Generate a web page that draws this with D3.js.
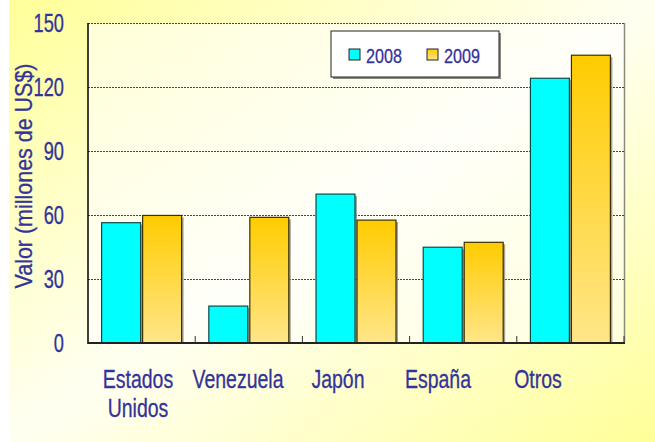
<!DOCTYPE html>
<html><head><meta charset="utf-8">
<script src="https://cdn.jsdelivr.net/npm/d3@7"></script>
<style>
html,body{margin:0;padding:0;background:#fff;}
svg text{font-family:"Liberation Sans",Arial,sans-serif;fill:#333399;stroke:#333399;stroke-width:0.3;}
</style></head>
<body>
<svg id="chart" width="655" height="442"></svg>
<script>
const categories = ["Estados\nUnidos", "Venezuela", "Japón", "España", "Otros"];
const seriesNames = ["2008", "2009"];
const values2008 = [56.4, 17.3, 69.8, 44.9, 124.1];
const values2009 = [59.8, 58.9, 57.6, 47.2, 134.9];
const yTicks = [0, 30, 60, 90, 120, 150];
const yTitle = "Valor (millones de US$)";

const svg = d3.select("#chart");
const W = 655, H = 442;
const m = {left: 88, top: 23, right: 31, bottom: 99};
const pw = W - m.left - m.right, ph = H - m.top - m.bottom;

const defs = svg.append("defs");
const bg = defs.append("linearGradient").attr("id","bg").attr("x1","0").attr("y1","0").attr("x2","1").attr("y2","1");
bg.append("stop").attr("offset","0").attr("stop-color","#ffff99");
bg.append("stop").attr("offset","0.5").attr("stop-color","#fffff2");
bg.append("stop").attr("offset","1").attr("stop-color","#ffff99");
const gold = defs.append("linearGradient").attr("id","gold").attr("x1","0").attr("y1","0").attr("x2","0").attr("y2","1");
gold.append("stop").attr("offset","0").attr("stop-color","#ffcc00");
gold.append("stop").attr("offset","1").attr("stop-color","#ffe68a");

svg.append("rect").attr("x",9).attr("y",0).attr("width",W-9).attr("height",H).attr("fill","url(#bg)");

const x0 = d3.scaleBand().domain(categories).range([m.left, m.left+pw]).padding(0);
const x1 = d3.scaleBand().domain(seriesNames).range([x0.bandwidth()*0.127, x0.bandwidth()*0.873]).paddingInner(0.05);
const y = d3.scaleLinear().domain([0,150]).range([m.top+ph, m.top]);
const labelX = d3.scaleBand().domain(categories).range([m.left, m.left+500]);

// plot area
svg.append("rect").attr("x",m.left).attr("y",m.top).attr("width",pw).attr("height",ph)
  .attr("fill","#ffffff").attr("fill-opacity",0.55);
svg.append("line").attr("x1",m.left+pw+0.5).attr("x2",m.left+pw+0.5).attr("y1",m.top).attr("y2",m.top+ph)
  .attr("stroke","#8a8a7a").attr("stroke-width",1.5);

// grid
svg.append("g").selectAll("line").data(yTicks.filter(d=>d>0)).join("line")
  .attr("x1",m.left).attr("x2",m.left+pw)
  .attr("y1",d=>Math.round(y(d))+0.5).attr("y2",d=>Math.round(y(d))+0.5)
  .attr("stroke","#444").attr("stroke-width",1).attr("stroke-dasharray","2,1");

// bars
const data = categories.map((c,i)=>({c, vals:[{s:"2008",v:values2008[i]},{s:"2009",v:values2009[i]}]}));
const groups = svg.append("g").selectAll("g").data(data).join("g")
  .attr("transform",d=>`translate(${x0(d.c)},0)`);
groups.selectAll("rect.sh").data(d=>d.vals).join("rect").attr("class","sh")
  .attr("x",d=>x1(d.s)+2).attr("y",d=>y(d.v)+2).attr("width",x1.bandwidth())
  .attr("height",d=>y(0)-y(d.v)-2).attr("fill","#8a8a80").attr("fill-opacity",0.8);
groups.selectAll("rect.bar").data(d=>d.vals).join("rect").attr("class","bar")
  .attr("x",d=>x1(d.s)).attr("y",d=>y(d.v)).attr("width",x1.bandwidth())
  .attr("height",d=>y(0)-y(d.v))
  .attr("fill",d=>d.s==="2008"?"#00ffff":"url(#gold)")
  .attr("stroke",d=>d.s==="2008"?"#0b4a4a":"#3a3000").attr("stroke-width",1.2);

// axes lines
svg.append("line").attr("x1",m.left).attr("x2",m.left).attr("y1",m.top).attr("y2",m.top+ph+1).attr("stroke","#000").attr("stroke-width",1.5);
svg.append("line").attr("x1",m.left).attr("x2",m.left+pw+1).attr("y1",m.top+ph).attr("y2",m.top+ph).attr("stroke","#222").attr("stroke-width",2);
svg.append("g").selectAll("line").data(categories.slice(1).concat(["__end"])).join("line")
  .attr("x1",d=>d==="__end"?m.left+pw:x0(d)).attr("x2",d=>d==="__end"?m.left+pw:x0(d))
  .attr("y1",m.top+ph).attr("y2",m.top+ph-7).attr("stroke","#333").attr("stroke-width",1);

// y tick labels
svg.append("g").selectAll("text").data(yTicks).join("text")
  .attr("transform",d=>`translate(64,${y(d)}) scale(0.73,1)`)
  .attr("dy","0.36em").attr("text-anchor","end")
  .attr("font-size",25).text(d=>d);

// category labels
const cl = svg.append("g").selectAll("text").data(categories).join("text")
  .attr("transform",d=>`translate(${labelX(d)+labelX.bandwidth()/2},388) scale(0.78,1)`)
  .attr("text-anchor","middle").attr("font-size",25);
cl.selectAll("tspan").data(d=>d.split("\n")).join("tspan")
  .attr("x",0).attr("dy",(d,i)=>i===0?0:29).text(d=>d);

// y title
svg.append("text").attr("transform",`translate(32,${(m.top+m.top+ph)/2-7}) rotate(-90)`)
  .attr("text-anchor","middle").attr("font-size",24)
  .attr("textLength",225).attr("lengthAdjust","spacingAndGlyphs").text(yTitle);

// legend
const lg = svg.append("g").attr("transform","translate(331,31)");
lg.append("rect").attr("x",2).attr("y",2).attr("width",168).attr("height",46).attr("fill","#8a8a80");
lg.append("rect").attr("x",0).attr("y",0).attr("width",168).attr("height",46).attr("fill","#fff").attr("stroke","#222").attr("stroke-width",1);
const li = lg.selectAll("g.it").data(seriesNames).join("g").attr("class","it")
  .attr("transform",(d,i)=>`translate(${18+i*78},18)`);
li.append("rect").attr("width",11).attr("height",11)
  .attr("fill",d=>d==="2008"?"#00ffff":"url(#gold)").attr("stroke","#222").attr("stroke-width",1);
li.append("text").attr("transform",`translate(17,6) scale(0.77,1)`).attr("dy","0.36em").attr("font-size",21).text(d=>d);
</script>
</body></html>
